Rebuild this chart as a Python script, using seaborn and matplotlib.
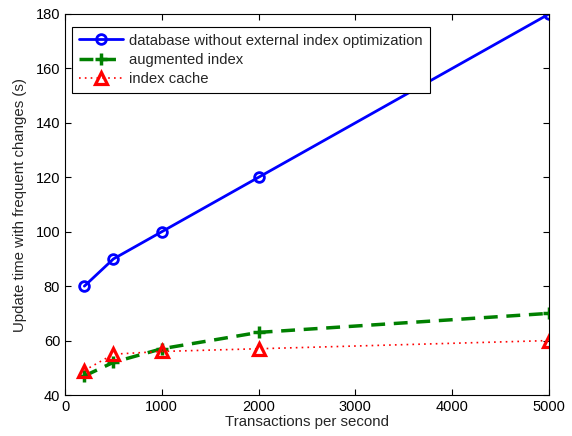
import matplotlib
matplotlib.use("Agg")
import matplotlib.pyplot as plt
import pandas as pd
import seaborn as sns

tps = [200, 500, 1000, 2000, 5000]
no_opt = [80, 90, 100, 120, 180]
augmented = [47, 52, 57, 63, 70]
cache = [49, 55, 56, 57, 60]

labels = ["database without external index optimization", "augmented index", "index cache"]

sns.set_style("ticks")
plt.rcParams['font.family'] = ['Liberation Sans', 'DejaVu Sans']
plt.rcParams['xtick.direction'] = 'in'
plt.rcParams['ytick.direction'] = 'in'

fig = plt.figure(figsize=(5.72, 4.36), dpi=100)
ax = fig.add_axes([65 / 572, 1 - 395 / 436, (549 - 65) / 572, (395 - 14) / 436])

df = pd.DataFrame({'tps': tps, 'no_opt': no_opt, 'augmented': augmented, 'cache': cache})

sns.lineplot(data=df, x='tps', y='no_opt', ax=ax, color='#0000ff', linestyle='-', lw=2,
             marker='o', markersize=7, markerfacecolor='none', markeredgecolor='#0000ff',
             markeredgewidth=2, label=labels[0])
sns.lineplot(data=df, x='tps', y='augmented', ax=ax, color='#008000', linestyle=(0, (4, 2.5)), lw=2.5,
             marker='+', markersize=8, markeredgewidth=2.5, markeredgecolor='#008000', label=labels[1])
sns.lineplot(data=df, x='tps', y='cache', ax=ax, color='#ff0000', linestyle=(0, (1, 2.5)), lw=1.2,
             marker='^', markersize=8, markerfacecolor='none', markeredgecolor='#ff0000',
             markeredgewidth=2.3, label=labels[2])

ax.set_xlim(0, 5000)
ax.set_ylim(40, 180)
ax.set_xticks([0, 1000, 2000, 3000, 4000, 5000])
ax.set_yticks(range(40, 181, 20))
ax.tick_params(top=True, right=True, labelsize=10.5, length=4, width=0.8, colors='black')
for s in ax.spines.values():
    s.set_linewidth(0.8)
    s.set_color('black')
ax.set_xlabel("Transactions per second", fontsize=10.8, labelpad=1)
ax.set_ylabel("Update time with frequent changes (s)", fontsize=10.8, labelpad=6)

leg = ax.legend(loc='upper left', bbox_to_anchor=(7 / 484, 1 - 13 / 381), fontsize=10.7, frameon=True,
                fancybox=False, edgecolor='black', framealpha=1, borderpad=0.45,
                labelspacing=0.35, handlelength=3.0, handletextpad=0.4, borderaxespad=0)
leg.get_frame().set_linewidth(0.8)

fig.savefig("out.png", dpi=100)
